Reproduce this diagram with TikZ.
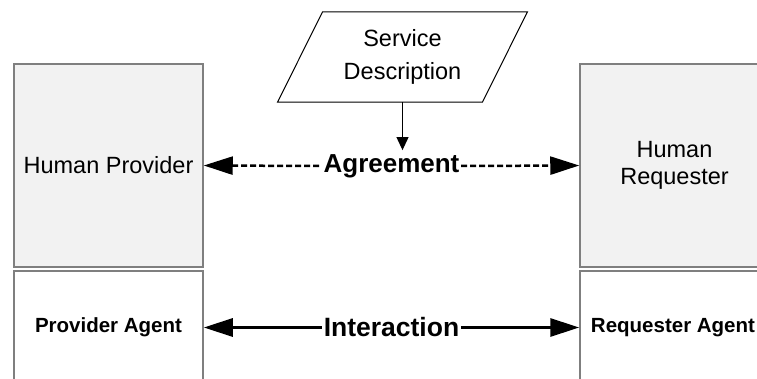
\documentclass[tikz,border=0pt]{standalone}
\usepackage{fontspec}
\setmainfont{Liberation Sans}
\usetikzlibrary{arrows.meta,calc}
\definecolor{boxfill}{HTML}{F2F2F2}
\definecolor{boxline}{HTML}{7F7F7F}
\begin{document}
\begin{tikzpicture}[x=1pt,y=-1pt,
  humanbox/.style={draw=boxline,line width=1.5pt,fill=boxfill,minimum width=189pt,minimum height=203pt,inner sep=0pt,align=center,font=\fontsize{23.5}{27}\selectfont},
  agentbox/.style={draw=boxline,line width=1.5pt,fill=white,minimum width=189pt,minimum height=113pt,inner sep=0pt,align=center,font=\bfseries\fontsize{20.5}{24}\selectfont},
  biglabel/.style={font=\bfseries\fontsize{26}{30}\selectfont,inner xsep=1.5pt,inner ysep=4pt},
  smalltip/.style={-{Triangle[length=13pt,width=12pt]}}]
\useasboundingbox (0,0) rectangle (757,379);
\node[humanbox] (hp) at (108.5,165.5) {Human Provider};
\node[humanbox] (hr) at (674.5,165.5) {Human\\Requester};
\node[agentbox] (pa) at (108.5,327.5) {Provider Agent};
\node[agentbox] (ra) at (674.5,327.5) {\hspace*{-3pt}Requester Agent};
\node[align=center,minimum width=204.5pt,minimum height=90pt,inner sep=0pt,font=\fontsize{23.5}{33}\selectfont] (sd) at (402.5,57) {Service\\Description};
\draw[black,line width=1pt] ([xshift=22.5pt]sd.north west) -- ([xshift=22.5pt]sd.north east) -- ([xshift=-22.5pt]sd.south east) -- ([xshift=-22.5pt]sd.south west) -- cycle;
\node[biglabel] (ag) at (391.5,166) {Agreement};
\node[biglabel,font=\bfseries\fontsize{26.5}{30}\selectfont] (ia) at (391.5,327.5) {Interaction};
\draw[line width=2.5pt,dash pattern=on 6pt off 3pt,{Triangle[length=29pt,width=18pt]}-] (hp.east) -- (ag.west);
\draw[line width=2.5pt,dash pattern=on 6pt off 3pt,-{Triangle[length=29pt,width=18pt]}] (ag.east) -- (hr.west);
\draw[line width=3pt,{Triangle[length=29pt,width=18pt]}-] (pa.east) -- (ia.west);
\draw[line width=3pt,-{Triangle[length=29pt,width=18pt]}] (ia.east) -- (ra.west);
\draw[line width=1pt,smalltip] (sd.south) -- (sd.south |- ag.north);
\end{tikzpicture}
\end{document}
